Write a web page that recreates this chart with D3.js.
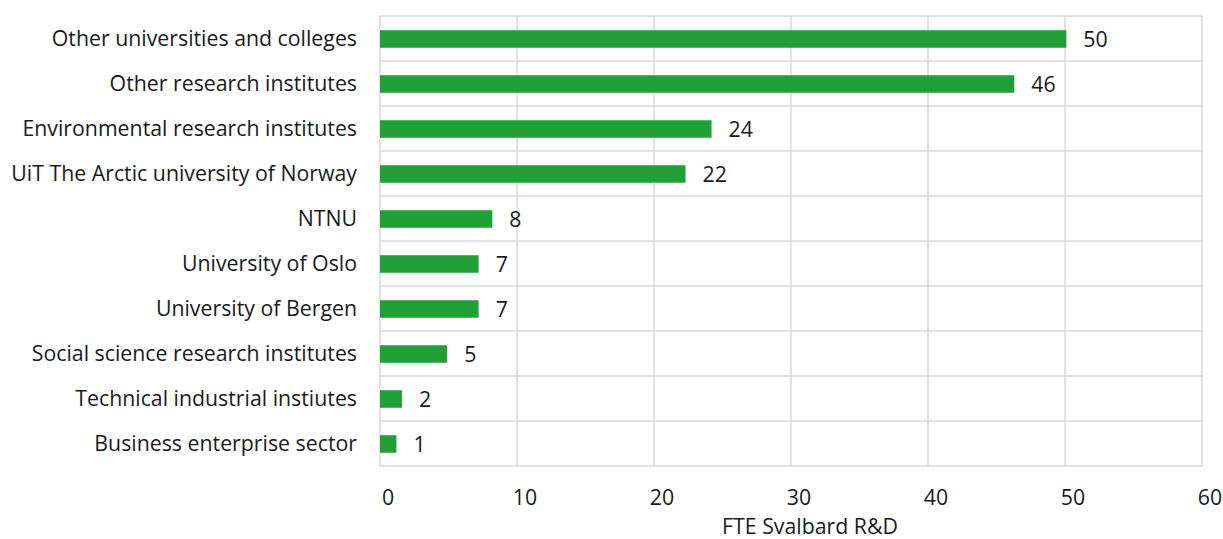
<!DOCTYPE html>
<html><head><meta charset="utf-8">
<script src="https://cdn.jsdelivr.net/npm/d3@7"></script>
<style>body{margin:0;background:#fff}text{font-family:"Open Sans",sans-serif}</style>
</head><body><svg id="c" width="1223" height="539"></svg>
<script>
const categories = ["Other universities and colleges","Other research institutes","Environmental research institutes","UiT The Arctic university of Norway","NTNU","University of Oslo","University of Bergen","Social science research institutes","Technical industrial instiutes","Business enterprise sector"];
const values = [50.1, 46.3, 24.2, 22.3, 8.2, 7.2, 7.2, 4.9, 1.6, 1.2];
const xTicks = [0,10,20,30,40,50,60];
const xTitle = "FTE Svalbard R&D";

const svg = d3.select("#c");
const m = {l:380, r:1202, t:16, b:466};
const x = d3.scaleLinear().domain([0,60]).range([m.l, m.r]);
const y = d3.scaleBand().domain(categories).range([m.t, m.b]).paddingInner(0).paddingOuter(0);
const grid = "#d9d9d9";
const fs = 21.3;

svg.append("g").selectAll("line").data(xTicks).join("line")
  .attr("x1", d=>x(d)).attr("x2", d=>x(d)).attr("y1", m.t).attr("y2", m.b)
  .attr("stroke", grid).attr("stroke-width", 1.5);
const hb = categories.map(c=>y(c)).concat([m.b]);
svg.append("g").selectAll("line").data(hb).join("line")
  .attr("x1", m.l).attr("x2", m.r).attr("y1", d=>d).attr("y2", d=>d)
  .attr("stroke", grid).attr("stroke-width", 1.5);

const bh = 17.5;
svg.append("g").selectAll("rect").data(values).join("rect")
  .attr("x", x(0)).attr("width", d=>x(d)-x(0))
  .attr("y", (d,i)=>y(categories[i]) + y.bandwidth()/2 - bh/2 + 0.5).attr("height", bh)
  .attr("fill", "#21a038");

svg.append("g").selectAll("text").data(values).join("text")
  .attr("x", d=>x(d)+17).attr("y", (d,i)=>y(categories[i]) + y.bandwidth()/2 + 8.5)
  .attr("font-size", fs).attr("fill", "#1a1a1a")
  .text(d=>d3.format(".0f")(d));

svg.append("g").selectAll("text").data(categories).join("text")
  .attr("x", 357).attr("y", d=>y(d)+y.bandwidth()/2 + 7.5)
  .attr("text-anchor","end").attr("font-size", fs).attr("fill", "#1a1a1a")
  .text(d=>d);

svg.append("g").selectAll("text").data(xTicks).join("text")
  .attr("x", d=>x(d)+8).attr("y", 505)
  .attr("text-anchor","middle").attr("font-size", fs).attr("fill", "#1a1a1a")
  .text(d=>d);

svg.append("text").attr("x", 810).attr("y", 534).attr("text-anchor","middle")
  .attr("font-size", fs).attr("fill", "#1a1a1a").text(xTitle);
</script></body></html>
